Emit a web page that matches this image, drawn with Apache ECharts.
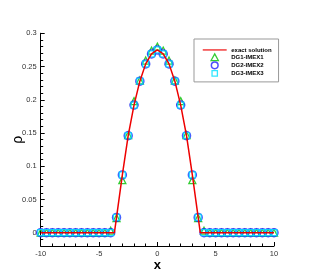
<!DOCTYPE html>
<html><head><meta charset="utf-8">
<script src="https://cdn.jsdelivr.net/npm/echarts@6/dist/echarts.min.js"></script>
<style>html,body{margin:0;padding:0;background:#fff}#c{width:311px;height:277px}</style>
</head><body><div id="c"></div>
<script>
var xValues = [-10,-9.5,-9,-8.5,-8,-7.5,-7,-6.5,-6,-5.5,-5,-4.5,-4,-3.5,-3,-2.5,-2,-1.5,-1,-0.5,0,0.5,1,1.5,2,2.5,3,3.5,4,4.5,5,5.5,6,6.5,7,7.5,8,8.5,9,9.5,10];
var dg1 = [0,0,0,0,0,0,0,0,0,0,0,0,0.003,0.022,0.079,0.147,0.198,0.229,0.259,0.274,0.280,0.274,0.259,0.229,0.198,0.147,0.079,0.022,0.003,0,0,0,0,0,0,0,0,0,0,0,0];
var dg2 = [0,0,0,0,0,0,0,0,0,0,0,0,0,0.023,0.087,0.146,0.192,0.228,0.254,0.269,0.275,0.269,0.254,0.228,0.192,0.146,0.087,0.023,0,0,0,0,0,0,0,0,0,0,0,0,0];
var dg3 = [0,0,0,0,0,0,0,0,0,0,0,0,0,0.023,0.087,0.146,0.192,0.228,0.254,0.269,0.275,0.269,0.254,0.228,0.192,0.146,0.087,0.023,0,0,0,0,0,0,0,0,0,0,0,0,0];
var exactX = [-10,-3.68,-3.5,-3,-2.5,-2,-1.5,-1,-0.5,0,0.5,1,1.5,2,2.5,3,3.5,3.68,10];
var exactY = [0,0,0.023,0.087,0.146,0.192,0.228,0.254,0.269,0.275,0.269,0.254,0.228,0.192,0.146,0.087,0.023,0,0];
var yMajorTicks = [0,0.05,0.1,0.15,0.2,0.25,0.3];
var yMinorTicks = [-0.01,0.01,0.02,0.03,0.04,0.06,0.07,0.08,0.09,0.11,0.12,0.13,0.14,0.16,0.17,0.18,0.19,0.21,0.22,0.23,0.24,0.26,0.27,0.28,0.29];
var seriesNames = ['exact solution','DG1-IMEX1','DG2-IMEX2','DG3-IMEX3'];

function pairs(xs, ys){ return xs.map(function(x,i){return [x, ys[i]];}); }
var F = 'Liberation Sans, Arial, sans-serif';
var BOX = 'M0 0 M25 7 ';
var chart = echarts.init(document.getElementById('c'), null, {renderer:'canvas'});
chart.setOption({
  animation:false,
  backgroundColor:'#fff',
  grid:{left:40.7,right:37,top:33.3,bottom:31, outerBoundsMode:'none', containLabel:false},
  legend:{
    orient:'vertical', left:194, top:39,
    data:[
      {name:seriesNames[0], icon:'path://' + BOX + 'M0 3 L25 3 L25 4.2 L0 4.2 Z', itemStyle:{color:'#ee0000', borderWidth:0}},
      {name:seriesNames[1], icon:'path://' + BOX + 'M12.5 0 L16.3 7 L8.7 7 Z', itemStyle:{color:'rgba(0,0,0,0)', borderColor:'#00c000', borderWidth:1.3}},
      {name:seriesNames[2], icon:'path://' + BOX + 'M9 3.5 A3.5 3.5 0 1 1 16 3.5 A3.5 3.5 0 1 1 9 3.5 Z', itemStyle:{color:'rgba(0,0,0,0)', borderColor:'#2020ff', borderWidth:1.5}},
      {name:seriesNames[3], icon:'path://' + BOX + 'M9.7 0.7 L15.3 0.7 L15.3 6.3 L9.7 6.3 Z', itemStyle:{color:'rgba(0,0,0,0)', borderColor:'#00e0ff', borderWidth:1.3}}
    ],
    itemWidth:25, itemHeight:6.7, itemGap:0,
    padding:[7.5,7,4.5,8],
    borderColor:'#999', borderWidth:1, backgroundColor:'#fff',
    textStyle:{fontSize:6, fontWeight:'bold', color:'#000', fontFamily:F, padding:[0,0,0,-1]},
    selectedMode:false
  },
  xAxis:{
    type:'value', min:-10, max:10, interval:5,
    axisLine:{onZero:false, lineStyle:{color:'#000', width:1}},
    axisTick:{inside:true, length:4, lineStyle:{color:'#000'}},
    minorTick:{show:true, splitNumber:5, length:2.5, lineStyle:{color:'#000'}},
    splitLine:{show:false},
    axisLabel:{fontSize:7.5, color:'#333', fontFamily:F, margin:4},
    name:'x', nameLocation:'middle', nameGap:13, nameMoveOverlap:false,
    nameTextStyle:{fontSize:13, fontWeight:'bold', color:'#000', fontFamily:F}
  },
  yAxis:[{
    type:'value', min:-0.02, max:0.3, position:'left', offset:0,
    axisLine:{show:true, onZero:false, lineStyle:{color:'#000', width:1}},
    axisTick:{show:true, inside:true, length:2.5, customValues:yMinorTicks, lineStyle:{color:'#000'}},
    axisLabel:{show:false},
    splitLine:{show:false}
  },{
    type:'value', min:-0.02, max:0.3, position:'left', offset:0,
    axisLine:{show:true, onZero:false, lineStyle:{color:'#000', width:1}},
    axisTick:{show:true, inside:true, length:4, customValues:yMajorTicks, lineStyle:{color:'#000'}},
    axisLabel:{fontSize:7.5, color:'#333', fontFamily:F, margin:4, customValues:yMajorTicks,
      formatter:function(v){return String(+v.toFixed(2));}},
    splitLine:{show:false},
    name:'ρ', nameLocation:'middle', nameGap:16, nameRotate:90, nameMoveOverlap:false,
    nameTextStyle:{fontSize:14, color:'#000', fontFamily:F}
  }],
  series:[
    {name:seriesNames[0], type:'line', data:pairs(exactX, exactY), showSymbol:false, symbol:'none',
     lineStyle:{color:'#ee0000', width:1.5}, itemStyle:{color:'#ee0000'}, z:5},
    {name:seriesNames[1], type:'scatter', data:pairs(xValues, dg1), symbol:'triangle', symbolSize:7,
     itemStyle:{color:'rgba(0,0,0,0)', borderColor:'#00c000', borderWidth:1.3}, z:2},
    {name:seriesNames[2], type:'scatter', data:pairs(xValues, dg2), symbol:'circle', symbolSize:8,
     itemStyle:{color:'rgba(0,0,0,0)', borderColor:'#2020ff', borderWidth:1.5}, z:3},
    {name:seriesNames[3], type:'scatter', data:pairs(xValues, dg3), symbol:'rect', symbolSize:6,
     itemStyle:{color:'rgba(0,0,0,0)', borderColor:'#00e0ff', borderWidth:1.3}, z:4}
  ]
});
</script></body></html>
